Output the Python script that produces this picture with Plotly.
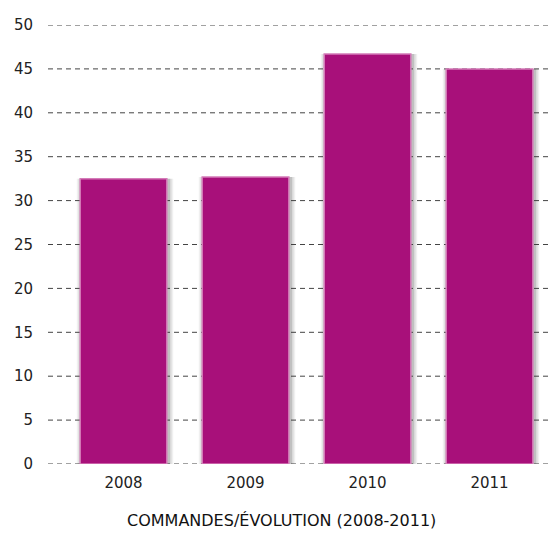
import plotly.graph_objects as go

years = ["2008", "2009", "2010", "2011"]
commandes = [32.5, 32.7, 46.7, 45.0]
y_ticks = [0, 5, 10, 15, 20, 25, 30, 35, 40, 45, 50]

bar_color = "#A8107A"
edge_color = "#D47BB8"
font_family = "DejaVu Sans, Verdana, sans-serif"

fig = go.Figure()

# soft drop shadow behind each bar
for dx, alpha in [(0.04, 0.08), (0.027, 0.12), (0.014, 0.16)]:
    fig.add_trace(go.Bar(
        x=list(range(len(years))), y=commandes,
        width=0.71 + 2 * dx, offset=-0.355 - dx + 0.012,
        marker=dict(color=f"rgba(60,60,60,{alpha})", line=dict(width=0)),
        hoverinfo="skip", showlegend=False,
    ))

fig.add_trace(go.Bar(
    x=list(range(len(years))), y=commandes,
    width=0.71, offset=-0.355,
    marker=dict(color=bar_color, line=dict(color=edge_color, width=1.5)),
    showlegend=False,
))

# dashed horizontal guides, one per tick, kept under the bars
for v in y_ticks:
    fig.add_shape(
        type="line", xref="paper", yref="y",
        x0=0, x1=1, y0=v, y1=v, layer="below",
        line=dict(color="#444", width=1, dash="5px,4px"),
    )

fig.update_layout(
    width=552, height=533,
    margin=dict(l=48, r=0, t=25, b=69),
    paper_bgcolor="white", plot_bgcolor="white",
    barmode="overlay",
    font=dict(family=font_family, size=15, color="#222"),
    xaxis=dict(
        range=[-0.619, 3.512],
        tickmode="array", tickvals=list(range(len(years))), ticktext=years,
        showgrid=False, zeroline=False, showline=False,
        ticks="", ticklabelstandoff=8,
        tickfont=dict(size=15, color="#222"),
    ),
    yaxis=dict(
        range=[0, 50],
        tickmode="array", tickvals=y_ticks,
        showgrid=False, zeroline=False, showline=False, ticks="",
        ticklabelstandoff=14,
        tickfont=dict(size=15, color="#222"),
    ),
    annotations=[dict(
        text="COMMANDES/ÉVOLUTION (2008-2011)",
        xref="paper", yref="paper", x=0.464, y=-0.128,
        xanchor="center", yanchor="middle", showarrow=False,
        font=dict(size=16, color="#111", family=font_family),
    )],
)

fig.write_html("out.html")
